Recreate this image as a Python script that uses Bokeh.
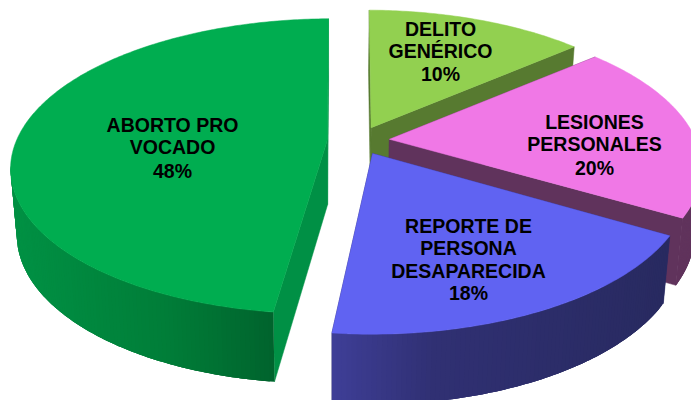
import numpy as np
from bokeh.plotting import figure
from bokeh.models import Range1d
from bokeh.core.properties import value
from bokeh.embed import file_html
from bokeh.resources import INLINE

# Data (back-to-front paint order, clockwise from 12 o'clock)
categories = ["DELITO GENÉRICO", "LESIONES PERSONALES", "REPORTE DE PERSONA DESAPARECIDA", "ABORTO PROVOCADO"]
label_pct = [10, 20, 18, 48]
slice_start_deg = [0.0, 49.4, 120.8, 187.2]   # angles each slice visibly occupies
slice_end_deg = [48.8, 120.6, 186.5, 359.2]
label_lines = [
    ["DELITO", "GENÉRICO", "10%"],
    ["LESIONES", "PERSONALES", "20%"],
    ["REPORTE DE", "PERSONA", "DESAPARECIDA", "18%"],
    ["ABORTO PRO", "VOCADO", "48%"],
]
top_colors = ["#92D050", "#F078E6", "#6063F2", "#00AD50"]
cut_colors = ["#577A30", "#60335C", "#2A2B66", "#009045"]
rim_stops = [
    [(0, (87, 122, 48)), (1, (87, 122, 48))],
    [(0, (96, 51, 92)), (1, (96, 51, 92))],
    [(0, (62, 62, 150)), (0.3, (48, 48, 115)), (1, (40, 42, 96))],
    [(0, (0, 145, 68)), (0.6, (0, 125, 56)), (1, (0, 100, 45))],
]

# Projection of the tilted pie
EXPLODE = 0.1
K = 0.18
KX = 0.0118
TOP = dict(cx=358.0, cy=140.0, rx=311.0, ry=143.0)
BOT = dict(cx=357.5, cy=205.0, rx=305.0, ry=147.0)


def project(X, Y, plane):
    w = 1 + K * Y + KX * np.maximum(X, 0)
    return plane["cx"] + plane["rx"] * X / w, plane["cy"] - plane["ry"] * Y / w


def hexcol(c):
    return "#%02x%02x%02x" % tuple(int(round(v)) for v in c)


p = figure(width=691, height=400, output_backend="svg", toolbar_location=None,
           x_range=Range1d(0, 691), y_range=Range1d(400, 0),
           x_axis_type=None, y_axis_type=None, min_border=0,
           outline_line_color=None, background_fill_color="white", border_fill_color="white")
p.grid.visible = False

for i, (a0, a1) in enumerate(zip(slice_start_deg, slice_end_deg)):
    da = a1 - a0
    mid = np.radians(a0 + da / 2)
    X0, Y0 = EXPLODE * np.sin(mid), EXPLODE * np.cos(mid)
    th = np.radians(np.linspace(a0, a1, int(da / 0.75) + 2))
    RX, RY = X0 + np.sin(th), Y0 + np.cos(th)
    tx, ty = project(RX, RY, TOP)
    bx, by = project(RX, RY, BOT)
    ax_t, ay_t = project(X0, Y0, TOP)
    ax_b, ay_b = project(X0, Y0, BOT)

    # cut faces
    for j in (0, -1):
        p.patch([ax_t, tx[j], bx[j], ax_b], [ay_t, ty[j], by[j], ay_b],
                fill_color=cut_colors[i], line_color=cut_colors[i], line_width=0.5)

    # outer wall, front-facing segments only, shaded across its width;
    # each quad overlaps the next so no seams show
    front = [n for n in range(len(th) - 1) if np.cos((th[n] + th[n + 1]) / 2) < -K]
    if front:
        xm = np.array([(tx[n] + tx[n + 1]) / 2 for n in front])
        lo, hi = xm.min(), xm.max()
        pos = [s[0] for s in rim_stops[i]]
        xs, ys, cols = [], [], []
        for k, (n, x_mid) in enumerate(zip(front, xm)):
            f = (x_mid - lo) / max(hi - lo, 1)
            c = [np.interp(f, pos, [s[1][ch] for s in rim_stops[i]]) for ch in range(3)]
            e = front[min(k + 2, len(front) - 1)] + 1
            idx = list(range(n, e + 1))
            xs.append(list(tx[idx]) + list(bx[idx][::-1]))
            ys.append(list(ty[idx]) + list(by[idx][::-1]))
            cols.append(hexcol(c))
        p.patches(xs, ys, fill_color=cols, line_color=None)

    # top face
    p.patch(np.concatenate([[ax_t], tx]).tolist(), np.concatenate([[ay_t], ty]).tolist(),
            fill_color=top_colors[i], line_color=top_colors[i], line_width=0.5)

# Labels: centre x and the y of each line
label_anchor = [(440, [28, 50, 73]), (594, [121, 143, 167]),
                (468, [225, 247, 270, 292]), (172, [124, 146, 170])]
for lines, (lx, lys) in zip(label_lines, label_anchor):
    p.text(x=[lx] * len(lines), y=lys, text=lines, text_color="black",
           text_font=value("Liberation Sans"), text_font_style="bold", text_font_size="19.5px",
           text_align="center", text_baseline="middle")

open("out.html", "w").write(file_html(p, INLINE))
